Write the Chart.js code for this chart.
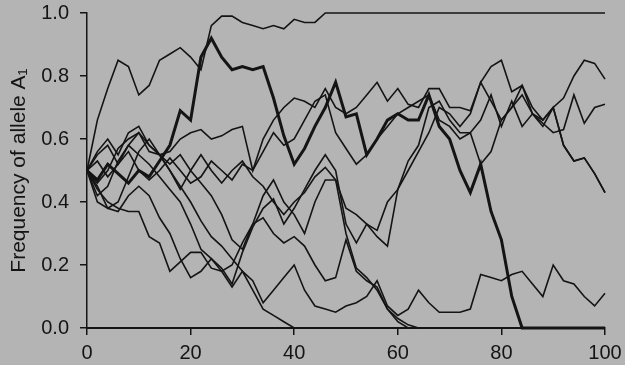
<!DOCTYPE html>
<html lang="en">
<head>
  <meta charset="UTF-8">
  <title>Genetic drift - frequency of allele A1</title>
  <script src="https://cdn.jsdelivr.net/npm/chart.js"></script>
  <style>
    html, body {
      margin: 0;
      padding: 0;
      background-color: #b4b4b4;
    }
    #driftChart {
      display: block;
    }
  </style>
</head>
<body>
  <canvas id="driftChart" width="625" height="365"></canvas>

  <script>
    // generations (x values), one sample every 2 generations
    const generations = [0, 2, 4, 6, 8, 10, 12, 14, 16, 18, 20, 22, 24, 26, 28, 30, 32, 34, 36, 38, 40,
      42, 44, 46, 48, 50, 52, 54, 56, 58, 60, 62, 64, 66, 68, 70, 72, 74, 76, 78, 80,
      82, 84, 86, 88, 90, 92, 94, 96, 98, 100];

    const xTicks = [0, 20, 40, 60, 80, 100];
    const yTicks = [0, 0.2, 0.4, 0.6, 0.8, 1.0];

    // population that fixes A1 around generation 46
    const popA = [0.50, 0.66, 0.76, 0.85, 0.83, 0.74, 0.77, 0.85, 0.87, 0.89,
      0.86, 0.82, 0.96, 0.99, 0.99, 0.97, 0.96, 0.95, 0.96, 0.95,
      0.98, 0.97, 0.97, 1, 1, 1, 1, 1, 1, 1,
      1, 1, 1, 1, 1, 1, 1, 1, 1, 1,
      1, 1, 1, 1, 1, 1, 1, 1, 1, 1, 1];

    // the heavy line, lost around generation 84
    const popB = [0.50, 0.47, 0.52, 0.49, 0.46, 0.50, 0.48, 0.53, 0.58, 0.69,
      0.66, 0.86, 0.92, 0.86, 0.82, 0.83, 0.82, 0.83, 0.73, 0.61,
      0.52, 0.57, 0.64, 0.70, 0.78, 0.67, 0.68, 0.55, 0.60, 0.66,
      0.68, 0.66, 0.66, 0.74, 0.64, 0.60, 0.50, 0.43, 0.52, 0.37,
      0.28, 0.10, 0, 0, 0, 0, 0, 0, 0, 0, 0];

    const popC = [0.50, 0.56, 0.60, 0.55, 0.62, 0.64, 0.58, 0.55, 0.56, 0.60,
      0.62, 0.63, 0.60, 0.61, 0.63, 0.64, 0.50, 0.60, 0.66, 0.70,
      0.73, 0.72, 0.70, 0.76, 0.70, 0.68, 0.70, 0.74, 0.78, 0.72,
      0.76, 0.71, 0.70, 0.76, 0.76, 0.70, 0.70, 0.69, 0.78, 0.83,
      0.85, 0.75, 0.77, 0.68, 0.64, 0.70, 0.73, 0.80, 0.85, 0.84, 0.79];

    const popD = [0.50, 0.55, 0.58, 0.52, 0.58, 0.62, 0.56, 0.55, 0.50, 0.44,
      0.50, 0.55, 0.50, 0.46, 0.50, 0.53, 0.48, 0.45, 0.40, 0.36,
      0.40, 0.43, 0.48, 0.51, 0.47, 0.38, 0.36, 0.33, 0.29, 0.26,
      0.44, 0.53, 0.58, 0.70, 0.72, 0.66, 0.62, 0.62, 0.66, 0.74,
      0.64, 0.72, 0.64, 0.68, 0.65, 0.62, 0.63, 0.74, 0.65, 0.70, 0.71];

    const popE = [0.50, 0.42, 0.45, 0.53, 0.58, 0.55, 0.52, 0.48, 0.44, 0.40,
      0.33, 0.25, 0.22, 0.19, 0.14, 0.24, 0.32, 0.38, 0.41, 0.33,
      0.38, 0.44, 0.50, 0.55, 0.50, 0.33, 0.27, 0.33, 0.31, 0.40,
      0.44, 0.50, 0.56, 0.62, 0.70, 0.68, 0.64, 0.68, 0.78, 0.72,
      0.66, 0.70, 0.74, 0.68, 0.66, 0.70, 0.58, 0.53, 0.54, 0.49, 0.43];

    const popF = [0.50, 0.44, 0.40, 0.38, 0.37, 0.37, 0.29, 0.27, 0.18, 0.21,
      0.24, 0.24, 0.19, 0.18, 0.13, 0.18, 0.15, 0.08, 0.12, 0.16,
      0.20, 0.12, 0.07, 0.06, 0.05, 0.07, 0.08, 0.10, 0.15, 0.07,
      0.04, 0.06, 0.12, 0.08, 0.05, 0.05, 0.05, 0.06, 0.17, 0.16,
      0.15, 0.17, 0.18, 0.14, 0.10, 0.20, 0.15, 0.14, 0.10, 0.07, 0.11];

    const popG = [0.50, 0.46, 0.50, 0.57, 0.60, 0.62, 0.58, 0.55, 0.50, 0.45,
      0.40, 0.34, 0.29, 0.26, 0.22, 0.18, 0.12, 0.06, 0.04, 0.02,
      0, 0, 0, 0, 0, 0, 0, 0, 0, 0,
      0, 0, 0, 0, 0, 0, 0, 0, 0, 0,
      0, 0, 0, 0, 0, 0, 0, 0, 0, 0, 0];

    const popH = [0.50, 0.40, 0.38, 0.40, 0.48, 0.56, 0.60, 0.55, 0.52, 0.55,
      0.50, 0.46, 0.42, 0.36, 0.28, 0.25, 0.33, 0.42, 0.47, 0.40,
      0.36, 0.30, 0.40, 0.47, 0.47, 0.30, 0.19, 0.16, 0.12, 0.06,
      0.02, 0, 0, 0, 0, 0, 0, 0, 0, 0,
      0, 0, 0, 0, 0, 0, 0, 0, 0, 0, 0];

    const popI = [0.50, 0.45, 0.38, 0.37, 0.42, 0.45, 0.42, 0.35, 0.30, 0.22,
      0.16, 0.18, 0.22, 0.18, 0.20, 0.27, 0.33, 0.35, 0.30, 0.27,
      0.29, 0.26, 0.20, 0.15, 0.16, 0.28, 0.18, 0.15, 0.13, 0.06,
      0.03, 0.01, 0, 0, 0, 0, 0, 0, 0, 0,
      0, 0, 0, 0, 0, 0, 0, 0, 0, 0, 0];

    const popJ = [0.50, 0.53, 0.48, 0.52, 0.56, 0.50, 0.47, 0.50, 0.54, 0.50,
      0.46, 0.48, 0.53, 0.50, 0.47, 0.52, 0.50, 0.56, 0.62, 0.58,
      0.60, 0.66, 0.72, 0.74, 0.62, 0.57, 0.52, 0.55, 0.60, 0.64,
      0.68, 0.70, 0.72, 0.74, 0.66, 0.64, 0.60, 0.62, 0.52, 0.56,
      0.66, 0.70, 0.77, 0.70, 0.66, 0.70, 0.58, 0.53, 0.54, 0.49, 0.43];

    const thinLines = [popA, popC, popD, popE, popF, popG, popH, popI, popJ];

    function toPoints(values) {
      return values.map((v, i) => ({ x: generations[i], y: v }));
    }

    const ink = '#141414';
    const fontFamily = '"Liberation Sans", Arial, Helvetica, sans-serif';

    const datasets = thinLines.map(values => ({
      data: toPoints(values),
      borderColor: ink,
      borderWidth: 1.6,
      pointRadius: 0,
      tension: 0,
      clip: 4
    }));
    datasets.push({
      data: toPoints(popB),
      borderColor: ink,
      borderWidth: 3,
      pointRadius: 0,
      tension: 0,
      clip: 4
    });

    // grey photo-like background behind everything
    const background = {
      id: 'background',
      beforeDraw(chart) {
        const c = chart.ctx;
        c.save();
        c.fillStyle = '#b4b4b4';
        c.fillRect(0, 0, chart.width, chart.height);
        c.restore();
      }
    };

    const ctx = document.getElementById('driftChart').getContext('2d');

    new Chart(ctx, {
      type: 'line',
      data: { datasets: datasets },
      plugins: [background],
      options: {
        responsive: false,
        devicePixelRatio: 1,
        animation: false,
        layout: {
          padding: { top: 13, right: 20, left: 0, bottom: 0 }
        },
        plugins: {
          legend: { display: false },
          tooltip: { enabled: false }
        },
        scales: {
          x: {
            type: 'linear',
            min: 0,
            max: 100,
            afterFit(scale) {
              scale.height = 37;
              scale.paddingLeft = 0;
              scale.paddingRight = 0;
            },
            afterBuildTicks(scale) { scale.ticks = xTicks.map(v => ({ value: v })); },
            ticks: {
              color: ink,
              padding: 6,
              font: { family: fontFamily, size: 20 }
            },
            grid: {
              drawOnChartArea: false,
              drawTicks: true,
              tickLength: 7,
              color: ink,
              lineWidth: 1.5
            },
            border: { color: ink, width: 2 }
          },
          y: {
            min: 0,
            max: 1,
            afterFit(scale) {
              scale.width = 87;
              scale.paddingTop = 0;
              scale.paddingBottom = 0;
            },
            afterBuildTicks(scale) { scale.ticks = yTicks.map(v => ({ value: v })); },
            ticks: {
              color: ink,
              padding: 11,
              font: { family: fontFamily, size: 20 },
              callback: v => v.toFixed(1)
            },
            grid: {
              drawOnChartArea: false,
              drawTicks: true,
              tickLength: 7,
              color: ink,
              lineWidth: 1.5
            },
            border: { color: ink, width: 1.5 },
            title: {
              display: true,
              text: 'Frequency of allele A\u2081',
              color: ink,
              font: { family: fontFamily, size: 21 },
              padding: { top: 7, bottom: 0 }
            }
          }
        }
      }
    });
  </script>
</body>
</html>
